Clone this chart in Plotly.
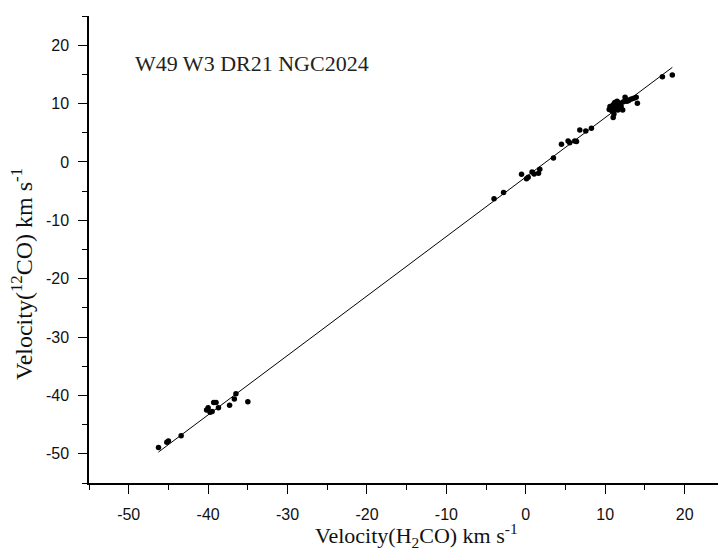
import plotly.graph_objects as go

# Data points: H2CO velocity (x) vs 12CO velocity (y)
vel_h2co = [
    -46.25, -45.2, -45.0, -43.4,
    -40.0, -39.75, -39.5, -40.2, -39.3, -39.0, -38.7, -37.3, -36.7, -36.5, -35.0,
    -4.0, -2.8, -0.54, 0.09, 0.3, 0.79, 1.05, 1.6, 1.76, 3.48,
    4.49, 5.32, 5.53, 6.16, 6.38, 6.8, 7.55, 8.26,
    10.5, 10.6, 10.8, 10.9, 11.0, 11.0, 11.1, 11.2, 11.3, 11.4, 11.5, 11.6, 11.7,
    11.8, 12.0, 12.2, 12.3, 12.5, 12.7, 12.9, 13.0, 13.3, 13.6, 13.9, 14.05,
    17.2, 18.45,
]
vel_12co = [
    -48.9, -48.0, -47.8, -46.9,
    -42.1, -42.9, -42.75, -42.5, -41.2, -41.2, -42.1, -41.7, -40.6, -39.7, -41.1,
    -6.3, -5.25, -2.1, -2.86, -2.62, -1.71, -2.05, -1.93, -1.25, 0.68,
    3.03, 3.6, 3.3, 3.6, 3.48, 5.48, 5.3, 5.77,
    9.0, 9.5, 8.8, 9.3, 9.8, 7.6, 8.2, 10.2, 9.0, 9.6, 10.4, 8.9, 9.9,
    10.1, 9.5, 8.9, 10.3, 11.1, 10.4, 10.5, 10.6, 10.8, 10.9, 11.1, 10.05,
    14.6, 14.9,
]

# Linear fit line
fit_slope = 1.0185
fit_intercept = -2.59
fit_x = [-46.25, 18.45]
fit_y = [fit_slope * v + fit_intercept for v in fit_x]

x_range = [-55, 24.2]
y_range = [-55, 25]
x_tickvals = [-50, -40, -30, -20, -10, 0, 10, 20]
x_ticktext = ["-50", "-40", "-30", "-20", "-10", "0", "10", "20"]
y_tickvals = [-50, -40, -30, -20, -10, 0, 10, 20]
y_ticktext = ["-50", "-40", "-30", "-20", "-10", "0", "10", "20"]
label_text = "W49 W3 DR21 NGC2024"
x_title = "Velocity(H<sub>2</sub>CO) km s<sup>-1</sup>"
y_title = "Velocity(<sup>12</sup>CO) km s<sup>-1</sup>"

fig = go.Figure()
fig.add_trace(go.Scatter(x=fit_x, y=fit_y, mode="lines",
                         line=dict(color="black", width=1), showlegend=False,
                         hoverinfo="skip"))
fig.add_trace(go.Scatter(x=vel_h2co, y=vel_12co, mode="markers",
                         marker=dict(color="black", size=5.5), showlegend=False))

tickfont = dict(family="Liberation Sans, Arial", size=16, color="#111111")
serif = "Liberation Serif, Times New Roman"

fig.update_layout(
    width=718, height=553,
    margin=dict(l=89, r=0, t=16, b=70),
    plot_bgcolor="white", paper_bgcolor="white",
    showlegend=False,
    xaxis=dict(range=x_range, tickmode="array", tickvals=x_tickvals, ticktext=x_ticktext,
               ticks="outside", ticklen=9,
               tickwidth=1.3, tickcolor="black", showline=True, linewidth=1.5,
               linecolor="black", showgrid=False, zeroline=False,
               tickfont=tickfont, ticklabelstandoff=7,
               minor=dict(dtick=5, tick0=0, ticks="outside", ticklen=5,
                          tickwidth=1.3, tickcolor="black", showgrid=False)),
    yaxis=dict(range=y_range, tickmode="array", tickvals=y_tickvals, ticktext=y_ticktext,
               ticks="outside", ticklen=9,
               tickwidth=1.3, tickcolor="black", showline=True, linewidth=1.5,
               linecolor="black", showgrid=False, zeroline=False,
               tickfont=tickfont, ticklabelstandoff=6,
               minor=dict(dtick=5, tick0=0, ticks="outside", ticklen=5,
                          tickwidth=1.3, tickcolor="black", showgrid=False)),
    xaxis2=dict(range=x_range, overlaying="x", side="top", anchor="y",
                dtick=10, tick0=0, ticks="inside", ticklen=9, tickwidth=1.3,
                tickcolor="black", showline=True, linewidth=1.5, linecolor="black",
                showgrid=False, zeroline=False, showticklabels=False,
                minor=dict(dtick=5, tick0=0, ticks="inside", ticklen=5,
                           tickwidth=1.3, tickcolor="black", showgrid=False)),
    yaxis2=dict(range=y_range, overlaying="y", side="right", anchor="x",
                dtick=10, tick0=0, ticks="inside", ticklen=5, tickwidth=1.3,
                tickcolor="black", showline=False, showgrid=False, zeroline=False,
                showticklabels=False,
                minor=dict(dtick=5, tick0=0, ticks="inside", ticklen=3,
                           tickwidth=1.3, tickcolor="black", showgrid=False)),
    annotations=[
        dict(text=label_text, xref="paper", yref="paper", x=0.07, y=0.899,
             xanchor="left", yanchor="middle", showarrow=False,
             font=dict(family=serif, size=22, color="#222222")),
        dict(text=x_title, xref="paper", yref="paper", x=0.52, y=-0.112,
             xanchor="center", yanchor="middle", showarrow=False,
             font=dict(family=serif, size=22, color="#111111")),
        dict(text=y_title, xref="paper", yref="paper", x=-0.1065, y=0.4475,
             xanchor="center", yanchor="middle", showarrow=False, textangle=-90,
             font=dict(family=serif, size=24, color="#111111")),
    ],
)

fig.write_html("out.html")
